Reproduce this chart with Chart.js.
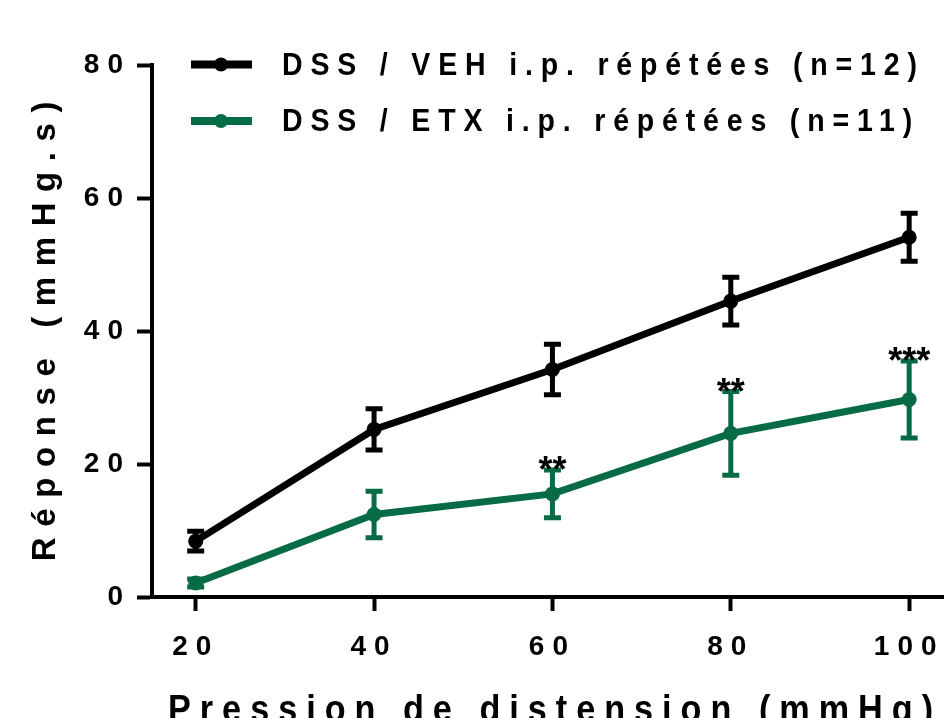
<!DOCTYPE html>
<html>
<head>
<meta charset="utf-8">
<script src="https://cdn.jsdelivr.net/npm/chart.js@4"></script>
<style>
  html, body { margin: 0; padding: 0; background: #fff; overflow: hidden; }
  #wrap { width: 944px; height: 718px; overflow: hidden; }
  #pressureChart { display: block; }
</style>
</head>
<body>
<div id="wrap"><canvas id="pressureChart" width="960" height="740"></canvas></div>
<script>
// Data
const pressures = [20, 40, 60, 80, 100];
const vehMean = [8.4, 25.2, 34.2, 44.5, 54.1];
const vehSem = [1.5, 3.1, 3.8, 3.6, 3.6];
const etxMean = [2.1, 12.4, 15.5, 24.6, 29.7];
const etxSem = [0.6, 3.5, 3.6, 6.3, 5.8];
const etxStars = ['', '', '**', '**', '***'];
const yTicks = [0, 20, 40, 60, 80];
const seriesLabels = ['DSS / VEH i.p. répétées (n=12)', 'DSS / ETX i.p. répétées (n=11)'];

const BLACK = '#000000';
const GREEN = '#076b45';
const FONT = "'Liberation Sans', Arial, sans-serif";
const semSets = [vehSem, etxSem];

const toPoints = (arr) => arr.map((v, i) => ({ x: pressures[i], y: v }));

// draw text squeezed horizontally (the original uses a slightly condensed look)
function squeezedText(ctx, text, x, y, sx) {
    ctx.save();
    ctx.translate(x, y);
    ctx.scale(sx, 1);
    ctx.fillText(text, 0, 0);
    ctx.restore();
}

// Error bars (mean +/- SEM) drawn under the lines
const errorBars = {
    id: 'errorBars',
    beforeDatasetsDraw(chart) {
        const { ctx, scales: { x, y } } = chart;
        chart.data.datasets.forEach((ds, i) => {
            const sem = semSets[i];
            ctx.save();
            ctx.strokeStyle = ds.borderColor;
            ctx.lineWidth = 5;
            ctx.lineCap = 'butt';
            ds.data.forEach((p, j) => {
                const px = x.getPixelForValue(p.x);
                const top = y.getPixelForValue(p.y + sem[j]);
                const bot = y.getPixelForValue(p.y - sem[j]);
                ctx.beginPath();
                ctx.moveTo(px, top);
                ctx.lineTo(px, bot);
                ctx.moveTo(px - 8.5, top);
                ctx.lineTo(px + 8.5, top);
                ctx.moveTo(px - 8.5, bot);
                ctx.lineTo(px + 8.5, bot);
                ctx.stroke();
            });
            ctx.restore();
        });
    }
};

// Legend, axis titles and significance stars
const decorations = {
    id: 'decorations',
    beforeDraw(chart) {
        chart.ctx.letterSpacing = '8px';
    },
    afterDatasetsDraw(chart) {
        const { ctx, scales: { x, y } } = chart;
        ctx.save();
        ctx.fillStyle = BLACK;
        ctx.font = 'bold 36px ' + FONT;
        ctx.letterSpacing = '0px';
        ctx.textAlign = 'center';
        ctx.textBaseline = 'alphabetic';
        etxStars.forEach((s, j) => {
            if (!s) return;
            const px = x.getPixelForValue(pressures[j]);
            const top = y.getPixelForValue(etxMean[j] + etxSem[j]);
            ctx.fillText(s, px, top + 12);
        });
        ctx.restore();
    },
    afterDraw(chart) {
        const { ctx, chartArea } = chart;
        ctx.save();
        // legend
        const colors = [BLACK, GREEN];
        const rows = [64.5, 121];
        colors.forEach((c, i) => {
            const ly = rows[i];
            ctx.strokeStyle = c;
            ctx.fillStyle = c;
            ctx.lineWidth = 8;
            ctx.beginPath();
            ctx.moveTo(191, ly);
            ctx.lineTo(252, ly);
            ctx.stroke();
            ctx.beginPath();
            ctx.arc(221, ly, 7, 0, Math.PI * 2);
            ctx.fill();
            ctx.fillStyle = BLACK;
            ctx.font = 'bold 31px ' + FONT;
            ctx.letterSpacing = '8.5px';
            ctx.textAlign = 'left';
            ctx.textBaseline = 'middle';
            squeezedText(ctx, seriesLabels[i], 282, ly + 1.5, 0.92);
        });

        // y axis title
        ctx.fillStyle = BLACK;
        ctx.font = 'bold 33px ' + FONT;
        ctx.letterSpacing = '10.6px';
        ctx.textAlign = 'center';
        ctx.textBaseline = 'middle';
        ctx.save();
        ctx.translate(46, (chartArea.top + chartArea.bottom) / 2 - 5);
        ctx.rotate(-Math.PI / 2);
        ctx.fillText('Réponse (mmHg.s)', 0, 0);
        ctx.restore();

        // x axis title (cut by the bottom edge, as in the original)
        ctx.font = 'bold 38px ' + FONT;
        ctx.letterSpacing = '10px';
        ctx.textAlign = 'left';
        ctx.textBaseline = 'alphabetic';
        squeezedText(ctx, 'Pression de distension (mmHg)', 168, 722, 0.9);
        ctx.restore();
    }
};

const ctx = document.getElementById('pressureChart').getContext('2d');
new Chart(ctx, {
    type: 'line',
    data: {
        datasets: [
            {
                label: seriesLabels[0],
                data: toPoints(vehMean),
                borderColor: BLACK,
                backgroundColor: BLACK,
                borderWidth: 7,
                pointRadius: 7.5,
                pointBorderWidth: 0,
                tension: 0
            },
            {
                label: seriesLabels[1],
                data: toPoints(etxMean),
                borderColor: GREEN,
                backgroundColor: GREEN,
                borderWidth: 7,
                pointRadius: 7.5,
                pointBorderWidth: 0,
                tension: 0
            }
        ]
    },
    options: {
        responsive: false,
        animation: false,
        layout: { autoPadding: false, padding: { top: 65, left: 0, right: 0, bottom: 0 } },
        plugins: {
            legend: { display: false },
            tooltip: { enabled: false }
        },
        scales: {
            x: {
                type: 'linear',
                min: 15.1,
                max: 105.7,
                afterBuildTicks: (scale) => {
                    scale.ticks = pressures.map(v => ({ value: v }));
                },
                afterFit: (scale) => {
                    scale.height = 143;
                    scale.paddingLeft = 0;
                    scale.paddingRight = 0;
                },
                grid: {
                    drawOnChartArea: false,
                    drawTicks: true,
                    tickLength: 14,
                    tickWidth: 4,
                    tickColor: BLACK
                },
                border: { display: true, width: 4, color: BLACK },
                ticks: {
                    color: BLACK,
                    padding: 19,
                    maxRotation: 0,
                    font: { family: FONT, size: 28, weight: 'bold' }
                }
            },
            y: {
                min: 0,
                max: 80,
                afterBuildTicks: (scale) => {
                    scale.ticks = yTicks.map(v => ({ value: v }));
                },
                afterFit: (scale) => {
                    scale.width = 152;
                    scale.paddingTop = 0;
                    scale.paddingBottom = 0;
                },
                grid: {
                    drawOnChartArea: false,
                    drawTicks: true,
                    tickLength: 15,
                    tickWidth: 4,
                    tickColor: BLACK
                },
                border: { display: true, width: 4, color: BLACK },
                ticks: {
                    color: BLACK,
                    padding: 6,
                    font: { family: FONT, size: 28, weight: 'bold' }
                }
            }
        }
    },
    plugins: [errorBars, decorations]
});
</script>
</body>
</html>
